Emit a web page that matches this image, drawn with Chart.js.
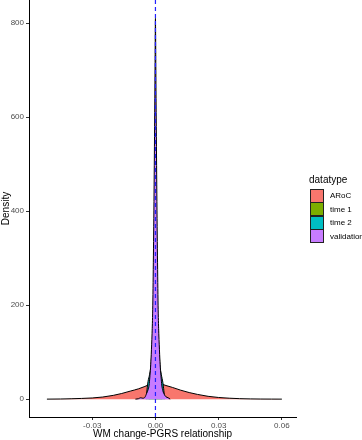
<!DOCTYPE html>
<html>
<head>
<meta charset="utf-8">
<script src="https://cdn.jsdelivr.net/npm/chart.js@4.4.1/dist/chart.umd.min.js"></script>
<style>
  html, body { margin: 0; padding: 0; background: #fff; }
  #wrap { position: relative; width: 362px; height: 440px; }
  #legend {
    position: absolute;
    left: 309px;
    top: 174px;
    font-family: "Liberation Sans", Arial, sans-serif;
    color: #000;
  }
  #legend .title { font-size: 10px; line-height: 12px; margin-bottom: 3px; }
  #legend .item { display: flex; align-items: center; height: 13.5px; margin-left: 1px; }
  #legend .key {
    width: 12px;
    height: 12px;
    border: 1px solid #222;
    box-sizing: content-box;
    margin-right: 6px;
  }
  #legend .item span { font-size: 8px; }
</style>
</head>
<body>
<div id="wrap">
  <canvas id="densityChart" width="362" height="440"></canvas>
  <div id="legend"><div class="title">datatype</div></div>
</div>
<script>
// density curves
const arocX = [-0.0515, -0.045, -0.04, -0.035, -0.03, -0.025, -0.02, -0.016, -0.012, -0.008, -0.005, -0.003, -0.0015, 0, 0.0015, 0.003, 0.005, 0.008, 0.012, 0.016, 0.02, 0.025, 0.03, 0.035, 0.04, 0.045, 0.05, 0.055, 0.06];
const arocY = [0, 0.3, 0.8, 1.5, 2.5, 4.5, 8, 12, 17, 22, 27, 31, 34, 35, 34, 32, 29, 25, 19, 14, 10, 6, 3.5, 2, 1, 0.5, 0.2, 0.1, 0];

const time1X = [-0.003, -0.0022, -0.0015, -0.0008, 0, 0.0008, 0.0015, 0.0022, 0.003];
const time1Y = [0, 20, 60, 150, 200, 150, 60, 20, 0];

const time2X = [-0.0044, -0.004, -0.0035, -0.0028, -0.0022, -0.0016, -0.001, -0.0005, 0, 0.0005, 0.001, 0.0016, 0.0022, 0.0028, 0.0035, 0.004, 0.0044];
const time2Y = [0, 20, 38, 52, 70, 110, 170, 230, 260, 230, 170, 110, 70, 52, 36, 18, 0];

const validX = [-0.0095, -0.008, -0.007, -0.006, -0.005, -0.0042, -0.0035, -0.003, -0.0027, -0.0023, -0.002, -0.0016, -0.0013, -0.001, -0.0007, -0.0004, -0.0002, 0, 0.0002, 0.0004, 0.0007, 0.001, 0.0013, 0.0016, 0.002, 0.0023, 0.0027, 0.003, 0.0035, 0.0042, 0.005, 0.006, 0.007];
const validY = [0, 1, 3, 2, 4, 12, 20, 30, 45, 68, 95, 140, 190, 290, 420, 580, 700, 810, 700, 580, 420, 290, 190, 140, 95, 68, 45, 30, 18, 10, 5, 3, 0];

const seriesNames = ["ARoC", "time 1", "time 2", "validation"];
const seriesColors = ["#F8766D", "#7CAE00", "#00BFC4", "#C77CFF"];

const xTicks = [-0.03, 0, 0.03, 0.06];
const yTicks = [0, 200, 400, 600, 800];
const xMin = -0.06, xMax = 0.0667;
const yMin = -38, yMax = 849;

function toPoints(xs, ys) {
  return xs.map((x, i) => ({ x: x, y: ys[i] }));
}

function densitySet(i, xs, ys) {
  return {
    label: seriesNames[i],
    data: toPoints(xs, ys),
    backgroundColor: seriesColors[i],
    borderColor: "#000",
    borderWidth: 1,
    pointRadius: 0,
    fill: "origin",
    cubicInterpolationMode: "monotone",
  };
}

// legend on the right, built as html
const legend = document.getElementById("legend");
seriesNames.forEach((name, i) => {
  const item = document.createElement("div");
  item.className = "item";
  item.innerHTML = `<div class="key" style="background:${seriesColors[i]}"></div><span>${name}</span>`;
  legend.appendChild(item);
});

const tickFont = { family: "Liberation Sans", size: 8 };
const titleFont = { family: "Liberation Sans", size: 10 };

new Chart(document.getElementById("densityChart"), {
  type: "line",
  data: {
    // first dataset is drawn on top
    datasets: [
      {
        label: "zero",
        data: [{ x: 0, y: yMin }, { x: 0, y: yMax }],
        borderColor: "#2222ff",
        borderWidth: 1.2,
        borderDash: [4, 3],
        pointRadius: 0,
        fill: false,
      },
      densitySet(3, validX, validY),
      densitySet(2, time2X, time2Y),
      densitySet(1, time1X, time1Y),
      densitySet(0, arocX, arocY),
    ],
  },
  options: {
    responsive: false,
    animation: false,
    layout: { padding: { top: 0, right: 66, left: 0, bottom: 0 } },
    plugins: {
      tooltip: { enabled: false },
      legend: { display: false },
    },
    scales: {
      x: {
        type: "linear",
        min: xMin,
        max: xMax,
        afterBuildTicks: (scale) => {
          scale.ticks = xTicks.map((v) => ({ value: v }));
        },
        afterFit: (scale) => {
          scale.height = 23;
          scale.paddingLeft = 0;
          scale.paddingRight = 0;
        },
        ticks: {
          color: "#4d4d4d",
          font: tickFont,
          padding: 1,
          maxRotation: 0,
          callback: (v) => Number(v).toFixed(2),
        },
        grid: {
          drawOnChartArea: false,
          drawTicks: true,
          tickLength: 3,
          color: "#333",
        },
        border: { display: true, color: "#000", width: 1 },
        title: {
          display: true,
          text: "WM change-PGRS relationship",
          color: "#000",
          font: titleFont,
          padding: { top: 0, bottom: 0 },
        },
      },
      y: {
        type: "linear",
        min: yMin,
        max: yMax,
        afterBuildTicks: (scale) => {
          scale.ticks = yTicks.map((v) => ({ value: v }));
        },
        afterFit: (scale) => {
          scale.width = 29;
          scale.paddingTop = 0;
          scale.paddingBottom = 0;
        },
        ticks: {
          color: "#4d4d4d",
          font: tickFont,
          padding: 2,
        },
        grid: {
          drawOnChartArea: false,
          drawTicks: true,
          tickLength: 3,
          color: "#333",
        },
        border: { display: true, color: "#000", width: 1 },
        title: {
          display: true,
          text: "Density",
          color: "#000",
          font: titleFont,
          padding: { top: 0, bottom: 0 },
        },
      },
    },
  },
});
</script>
</body>
</html>
